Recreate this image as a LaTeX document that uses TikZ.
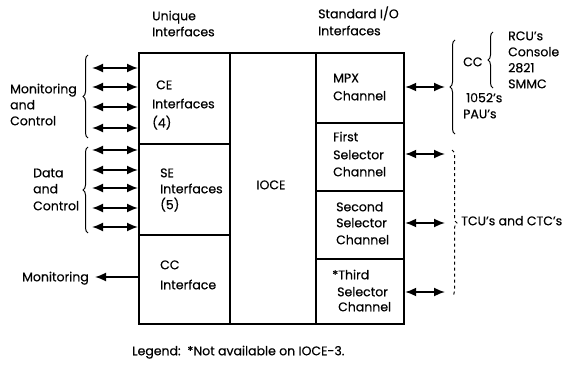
\documentclass[tikz,border=0pt]{standalone}
\usepackage{fontspec}
\setmainfont{Poppins}[FakeBold=0.4]
\usetikzlibrary{arrows.meta,decorations.pathreplacing}
\begin{document}
\begin{tikzpicture}[x=1pt,y=-1pt,
  box/.style={draw, line width=2.2pt, inner sep=0pt, anchor=north west, minimum width=#1},
  lbl/.style={anchor=west, inner sep=0pt, text height=8.5pt, text depth=0pt, font=\fontsize{12.5}{15}\selectfont},
  dbl/.style={line width=1.7pt, {Latex[length=11pt,width=9pt]}-{Latex[length=11pt,width=9pt]}},
  sgl/.style={line width=1.7pt, -{Latex[length=11pt,width=9pt]}},
  brc/.style={decorate, decoration={brace, amplitude=5pt}, line width=1pt}]
\useasboundingbox (0,0) rectangle (573,369);
% boxes
\node[box=91pt, minimum height=91pt] (CE) at (138,52) {};
\node[box=91pt, minimum height=91pt] (SE) at (138,143) {};
\node[box=91pt, minimum height=89pt] (CCI) at (138,234) {};
\node[box=86pt, minimum height=271pt] (IOCE) at (229,52) {};
\node[box=88pt, minimum height=70pt] (MPX) at (315,52) {};
\node[box=88pt, minimum height=68pt] (SC1) at (315,122) {};
\node[box=88pt, minimum height=68pt] (SC2) at (315,190) {};
\node[box=88pt, minimum height=65pt] (SC3) at (315,258) {};
% headings
\node[lbl] (u1) at (152,16) {Unique};
\node[lbl] (u2) at (152,32) {Interfaces};
\node[lbl] (s1) at (318,14) {Standard I/O};
\node[lbl] (s2) at (318,31) {Interfaces};
% box texts
\node[lbl] (ce1) at (156,85) {CE};
\node[lbl] (ce2) at (152,104) {Interfaces};
\node[lbl] (ce3) at (152,123) {(4)};
\node[lbl] (se1) at (160,173) {SE};
\node[lbl] (se2) at (160,189) {Interfaces};
\node[lbl] (se3) at (160,205) {(5)};
\node[lbl] (cc1) at (160,265) {CC};
\node[lbl] (cc2) at (160,285) {Interface};
\node[lbl, anchor=center] (io) at (271,185) {IOCE};
\node[lbl] (m1) at (333,78) {MPX};
\node[lbl] (m2) at (333,96) {Channel};
\node[lbl] (f1) at (333,137) {First};
\node[lbl] (f2) at (333,155) {Selector};
\node[lbl] (f3) at (333,172) {Channel};
\node[lbl] (d1) at (336,207) {Second};
\node[lbl] (d2) at (336,223) {Selector};
\node[lbl] (d3) at (336,240) {Channel};
\node[lbl] (t1) at (332,275) {*Third};
\node[lbl] (t2) at (337,292) {Selector};
\node[lbl] (t3) at (338,307) {Channel};
% left labels
\node[lbl] (mc1) at (10,89) {Monitoring};
\node[lbl] (mc2) at (10,105) {and};
\node[lbl] (mc3) at (10,121) {Control};
\node[lbl] (dc1) at (33,173) {Data};
\node[lbl] (dc2) at (33,189) {and};
\node[lbl] (dc3) at (33,206) {Control};
\node[lbl] (mon) at (22,277) {Monitoring};
% right labels
\node[lbl] (rcc) at (463,62) {CC};
\node[lbl] (r1) at (508,36) {RCU's};
\node[lbl] (r2) at (508,52) {Console};
\node[lbl] (r3) at (508,68) {2821};
\node[lbl] (r4) at (508,84) {SMMC};
\node[lbl] (r5) at (466,98) {1052's};
\node[lbl] (r6) at (463,114) {PAU's};
\node[lbl] (tcu) at (461,221) {TCU's and CTC's};
\node[lbl] (leg) at (132,351) {Legend:\ \ *Not available on IOCE-3.};
% left arrows
\foreach \i/\y in {1/68,2/87,3/107,4/128} {
  \coordinate (ca\i) at (92,\y);
  \draw[dbl] (ca\i) -- (ca\i -| CE.west);
}
\foreach \i/\y in {1/150,2/170,3/188,4/208,5/227} {
  \coordinate (sa\i) at (92,\y);
  \draw[dbl] (sa\i) -- (sa\i -| SE.west);
}
\coordinate (mo) at (95,277);
\draw[sgl] (mo -| CCI.west) -- (mo);
% right arrows
\coordinate (ma) at (445,87);
\draw[dbl] (ma -| MPX.east) -- (ma);
\coordinate (fa) at (445,154);
\draw[dbl] (fa -| SC1.east) -- (fa);
\coordinate (da) at (445,223);
\draw[dbl] (da -| SC2.east) -- (da);
\coordinate (ta) at (445,292);
\draw[dbl] (ta -| SC3.east) -- (ta);
% braces
\coordinate (b1a) at (88,55); \coordinate (b1b) at (88,138);
\draw[brc] (b1b) -- (b1a);
\coordinate (b2a) at (88,147); \coordinate (b2b) at (88,233);
\draw[brc] (b2b) -- (b2a);
\coordinate (b3a) at (455,40); \coordinate (b3b) at (455,134);
\draw[brc] (b3b) -- (b3a);
\coordinate (b4a) at (493,32); \coordinate (b4b) at (493,88);
\draw[brc] (b4b) -- (b4a);
\coordinate (b5a) at (452,150); \coordinate (b5b) at (452,296);
\draw[brc, dashed] (b5a) -- (b5b);
\end{tikzpicture}
\end{document}
